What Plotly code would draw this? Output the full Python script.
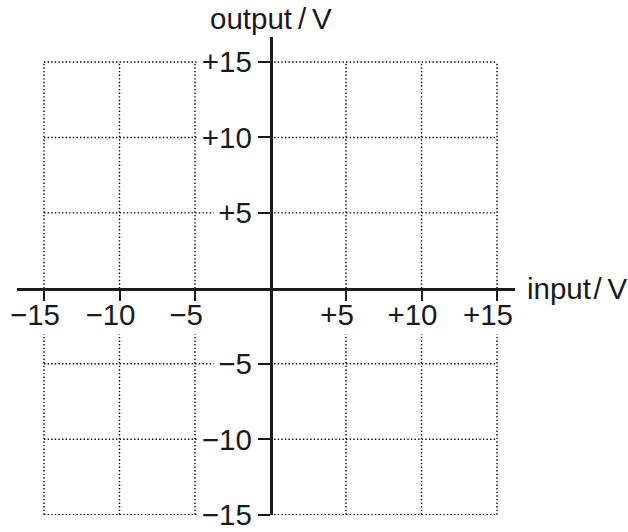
import plotly.graph_objects as go

# tick values and labels for both axes
x_ticks = [-15, -10, -5, 5, 10, 15]
x_labels = ['\u221215', '\u221210', '\u22125', '+5', '+10', '+15']
y_ticks = [-15, -10, -5, 5, 10, 15]
y_labels = ['\u221215', '\u221210', '\u22125', '+5', '+10', '+15']
grid_limits = [-15, 15]

x_title = 'input\u200a/\u2009V'
y_title = 'output\u2009/\u2009V'

W, H = 628, 532
# pixel placement of the origin and scale (px per volt)
x0_px, y0_px, scale = 270.5, 288.5, 15.1
x_left_px, x_right_px = 17, 515
y_top_px, y_bottom_px = 37, 515

ink = '#1a1a1a'
fsize = 29.5
font = dict(family='Liberation Sans, Arial, sans-serif', size=fsize, color=ink)
grid_line = dict(color='#000000', width=1.4, dash='1.4px,2.2px')

fig = go.Figure()


def grid_segment(xa, xb, ya, yb):
    fig.add_shape(type='line', xref='x', yref='y', x0=xa, x1=xb, y0=ya, y1=yb,
                  line=grid_line, layer='below')


# dotted grid inside the -15..15 box, left open where the tick labels sit
lo, hi = grid_limits
for v, lab in zip(y_ticks, y_labels):
    label_w = len(lab) * 0.565 * fsize
    stop = -(18.5 + label_w + 5) / scale
    grid_segment(lo, max(stop, lo), v, v)
    grid_segment(0, hi, v, v)
for v in x_ticks:
    grid_segment(v, v, 0, hi)
    grid_segment(v, v, lo, -46 / scale)

fig.update_layout(
    width=W, height=H,
    margin=dict(l=0, r=0, t=0, b=0, autoexpand=False),
    paper_bgcolor='white', plot_bgcolor='white',
    showlegend=False,
    font=font,
    xaxis=dict(
        domain=[x_left_px / W, x_right_px / W],
        range=[(x_left_px - x0_px) / scale, (x_right_px - x0_px) / scale],
        anchor='free', position=(H - y0_px) / H,
        showline=True, linecolor=ink, linewidth=2.5,
        showgrid=False, zeroline=False,
        ticks='outside', ticklen=11, tickwidth=2, tickcolor=ink,
        tickvals=x_ticks, ticktext=x_labels, ticklabelshift=-9, ticklabelstandoff=-12,
        ticklabeloverflow='allow',
        tickfont=font, fixedrange=True,
    ),
    yaxis=dict(
        domain=[(H - y_bottom_px) / H, (H - y_top_px) / H],
        range=[-15.02, (y0_px - y_top_px) / scale],
        anchor='free', position=x0_px / W,
        showline=True, linecolor=ink, linewidth=2.5,
        showgrid=False, zeroline=False,
        ticks='outside', ticklen=12, tickwidth=2, tickcolor=ink,
        tickvals=y_ticks, ticktext=y_labels,
        ticklabeloverflow='allow',
        tickfont=font, fixedrange=True,
    ),
    annotations=[
        dict(text=y_title, xref='paper', yref='paper', x=271 / W, y=(H - 18) / H,
             xanchor='center', yanchor='middle', showarrow=False, font=font),
        dict(text=x_title, xref='paper', yref='paper', x=525 / W, y=(H - 288) / H,
             xanchor='left', yanchor='middle', showarrow=False, font=font),
    ],
)

# page body has a default 8px margin, drop it so pixel positions line up
fig.write_html('out.html', config={'displayModeBar': False},
               post_script="document.body.style.margin='0';")
